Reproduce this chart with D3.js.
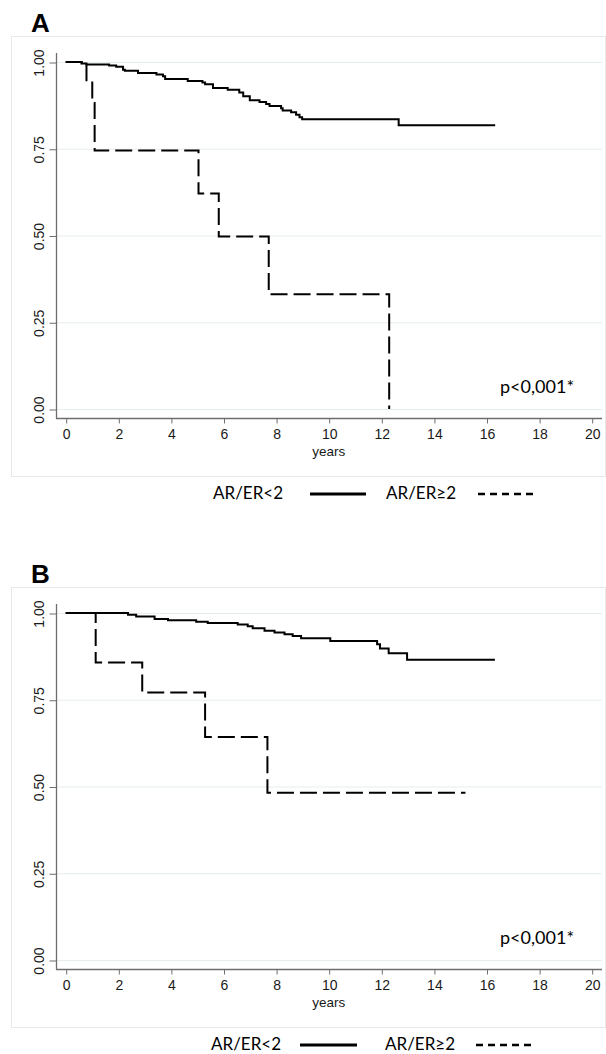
<!DOCTYPE html>
<html>
<head>
<meta charset="utf-8">
<script src="https://cdn.jsdelivr.net/npm/d3@7"></script>
<style>
  body { margin: 0; background: #fff; }
  svg { display: block; }
</style>
</head>
<body>
<div id="chart"></div>
<script>
// x axis ticks (years) and y axis ticks (survival)
const yearTicks = [0, 2, 4, 6, 8, 10, 12, 14, 16, 18, 20];
const survTicks = [0, 0.25, 0.5, 0.75, 1];
const legendLabels = ["AR/ER<2", "AR/ER≥2"];
const pText = "p<0,001*";

// panel A, AR/ER<2 (solid): step times and survival after each step
const aLowTime = [0, 0.6, 0.79, 1.65, 1.92, 2.18, 2.25, 2.75, 3.45, 3.7, 3.78, 4.64, 5.2, 5.3, 5.6, 6.16, 6.6, 6.75, 7.0, 7.37, 7.62, 7.75, 8.19, 8.25, 8.57, 8.76, 8.89, 8.99, 12.66, 16.33];
const aLowSurv = [1, 0.996, 0.993, 0.99, 0.986, 0.978, 0.975, 0.968, 0.964, 0.959, 0.951, 0.945, 0.941, 0.936, 0.925, 0.92, 0.912, 0.901, 0.89, 0.885, 0.879, 0.873, 0.867, 0.86, 0.855, 0.848, 0.841, 0.835, 0.818, 0.818];
// panel A, AR/ER>=2 (dashed)
const aHighTime = [0, 0.79, 1.01, 1.1, 5.05, 5.82, 7.72, 12.3];
const aHighSurv = [1, 0.941, 0.882, 0.745, 0.621, 0.497, 0.331, 0];

// panel B, AR/ER<2 (solid)
const bLowTime = [0, 2.37, 2.68, 3.38, 3.89, 4.96, 5.4, 6.54, 6.92, 7.11, 7.56, 7.94, 8.32, 8.63, 8.95, 10.06, 11.84, 11.95, 12.28, 12.98, 16.32];
const bLowSurv = [1, 0.995, 0.99, 0.983, 0.979, 0.975, 0.971, 0.967, 0.962, 0.956, 0.949, 0.944, 0.939, 0.934, 0.927, 0.919, 0.91, 0.898, 0.884, 0.865, 0.865];
// panel B, AR/ER>=2 (dashed)
const bHighTime = [0, 1.14, 2.91, 5.3, 7.67, 15.2];
const bHighSurv = [1, 0.857, 0.771, 0.643, 0.482, 0.482];

const W = 606, H = 1054;
const svg = d3.select("#chart").append("svg").attr("width", W).attr("height", H);

const x = d3.scaleLinear().domain([0, 20]).range([65.7, 591.7]);

const panels = [
  { letter: "A", top: 0, low: [aLowTime, aLowSurv], high: [aHighTime, aHighSurv], lg: [213, 310, 366, 386, 478] },
  { letter: "B", top: 551, low: [bLowTime, bLowSurv], high: [bHighTime, bHighSurv], lg: [211, 300, 357, 385, 476] }
];

const axisCol = "#6e6e6e";
const gridCol = "#e6eded";
const textCol = "#1a1a1a";

panels.forEach(p => {
  const g = svg.append("g").attr("transform", `translate(0, ${p.top})`);
  const y = d3.scaleLinear().domain([0, 1]).range([409, 62]);

  // outer frame
  g.append("rect").attr("x", 11.5).attr("y", 36.5).attr("width", 594).attr("height", 440)
    .attr("fill", "none").attr("stroke", "#e4eaea").attr("stroke-width", 1);

  g.append("text").attr("x", 31).attr("y", 31.5).text(p.letter)
    .attr("font-family", "Liberation Sans, Arial, sans-serif").attr("font-weight", "bold")
    .attr("font-size", 26).attr("fill", "#000");

  // grid
  g.selectAll(".grid").data(survTicks).enter().append("line")
    .attr("x1", 56).attr("x2", 602)
    .attr("y1", d => y(d) + 0.5).attr("y2", d => y(d) + 0.5)
    .attr("stroke", gridCol).attr("stroke-width", 1.2);

  // y axis
  const yAxis = g.append("g").attr("transform", "translate(56.5, 0.5)")
    .call(d3.axisLeft(y).tickValues(survTicks).tickFormat(d3.format(".2f")).tickSize(7).tickSizeOuter(0));
  yAxis.select(".domain").remove();
  yAxis.selectAll("line").attr("stroke", axisCol);
  yAxis.selectAll("text")
    .attr("transform", "rotate(-90)").attr("x", 0).attr("y", -13).attr("dy", 0)
    .attr("text-anchor", "middle")
    .attr("font-family", "Liberation Sans, Arial, sans-serif").attr("font-size", 14).attr("fill", textCol);
  g.append("line").attr("x1", 56.5).attr("x2", 56.5).attr("y1", 53).attr("y2", 418.5)
    .attr("stroke", axisCol).attr("stroke-width", 1.3);

  // x axis
  const xAxis = g.append("g").attr("transform", "translate(0.5, 418.5)")
    .call(d3.axisBottom(x).tickValues(yearTicks).tickSize(5).tickPadding(6).tickSizeOuter(0));
  xAxis.select(".domain").remove();
  xAxis.selectAll("line").attr("stroke", axisCol);
  xAxis.selectAll("text")
    .attr("font-family", "Liberation Sans, Arial, sans-serif").attr("font-size", 14).attr("fill", textCol);
  g.append("line").attr("x1", 56).attr("x2", 602).attr("y1", 418.5).attr("y2", 418.5)
    .attr("stroke", axisCol).attr("stroke-width", 1.3);

  g.append("text").attr("x", x(10)).attr("y", 456).attr("text-anchor", "middle").text("years")
    .attr("font-family", "Liberation Sans, Arial, sans-serif").attr("font-size", 13.5).attr("fill", textCol);

  // curves
  const line = d3.line().x(d => x(d[0])).y(d => y(d[1])).curve(d3.curveStepAfter);
  const pts = s => s[0].map((t, i) => [t, s[1][i]]);

  g.append("path").datum(pts(p.low)).attr("d", line)
    .attr("fill", "none").attr("stroke", "#000").attr("stroke-width", 2);
  g.append("path").datum(pts(p.high)).attr("d", line)
    .attr("fill", "none").attr("stroke", "#000").attr("stroke-width", 2)
    .attr("stroke-dasharray", "17,6");

  // p value
  g.append("text").attr("x", 500).attr("y", 393).text(pText)
    .attr("font-family", "Lato, sans-serif").attr("font-size", 18).attr("fill", "#000");

  // legend
  const lg = p.lg;
  const ly = 499;
  g.append("text").attr("x", lg[0]).attr("y", ly).text(legendLabels[0])
    .attr("font-family", "Lato, sans-serif").attr("font-size", 17).attr("fill", "#000");
  g.append("line").attr("x1", lg[1]).attr("x2", lg[2]).attr("y1", ly - 5).attr("y2", ly - 5)
    .attr("stroke", "#000").attr("stroke-width", 3);
  g.append("text").attr("x", lg[3]).attr("y", ly).text(legendLabels[1])
    .attr("font-family", "Lato, sans-serif").attr("font-size", 17).attr("fill", "#000");
  g.append("line").attr("x1", lg[4]).attr("x2", lg[4] + 57).attr("y1", ly - 5).attr("y2", ly - 5)
    .attr("stroke", "#000").attr("stroke-width", 2.5).attr("stroke-dasharray", "7,5");
});
</script>
</body>
</html>
